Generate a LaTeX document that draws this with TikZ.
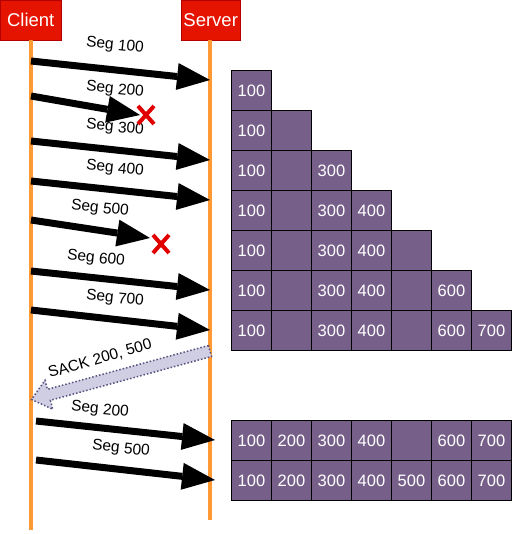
\documentclass[tikz,border=0pt]{standalone}
\usepackage{fontspec}
\setmainfont{Liberation Sans}
\usetikzlibrary{arrows.meta}
\definecolor{hdrred}{HTML}{E51400}
\definecolor{hdrborder}{HTML}{B20000}
\definecolor{lifeorange}{HTML}{FF9933}
\definecolor{cellpurple}{HTML}{76608A}
\definecolor{sackfill}{HTML}{D0CEE2}
\definecolor{sackline}{HTML}{56517E}
\definecolor{lossred}{HTML}{E00000}
\begin{document}
\begin{tikzpicture}[x=1pt,y=-1pt,
  header/.style={draw=hdrborder, fill=hdrred, text=white, font=\fontsize{18.5}{20}\selectfont, minimum height=40pt, inner sep=0pt, anchor=north west},
  lifeline/.style={draw=lifeorange, line width=3.5pt},
  seg/.style={line width=7pt, -{Triangle[length=33pt,width=27pt,line width=0pt]}},
  seglabel/.style={font=\fontsize{15.5}{17}\selectfont, rotate=-6, inner sep=0pt},
  cell/.style={draw=black, fill=cellpurple, text=white, minimum size=40pt, inner sep=0pt, anchor=north west, font=\fontsize{16.5}{18}\selectfont, line width=1pt},
  loss/.style={draw=lossred, line width=4pt},
  sack/.style={draw=sackline, fill=sackfill, dotted, line width=1.5pt}]
\useasboundingbox (0,0) rectangle (511,534);

% headers
\node[header, minimum width=61pt] (client) at (0,0) {Client};
\node[header, minimum width=59pt] (server) at (181,0) {Server};

% lifelines
\coordinate (clbot) at (31,530);
\coordinate (svbot) at (210,520);
\draw[lifeline] (client.south -| clbot) -- (clbot);
\draw[lifeline] (server.south -| svbot) -- (svbot);

% state cells
\foreach \t [count=\c from 0] in {100}
  \node[cell] (r1c\c) at (231+40*\c,70) {\t};
\foreach \t [count=\c from 0] in {100,{}}
  \node[cell] (r2c\c) at (231+40*\c,110) {\t};
\foreach \t [count=\c from 0] in {100,{},300}
  \node[cell] (r3c\c) at (231+40*\c,150) {\t};
\foreach \t [count=\c from 0] in {100,{},300,400}
  \node[cell] (r4c\c) at (231+40*\c,190) {\t};
\foreach \t [count=\c from 0] in {100,{},300,400,{}}
  \node[cell] (r5c\c) at (231+40*\c,230) {\t};
\foreach \t [count=\c from 0] in {100,{},300,400,{},600}
  \node[cell] (r6c\c) at (231+40*\c,270) {\t};
\foreach \t [count=\c from 0] in {100,{},300,400,{},600,700}
  \node[cell] (r7c\c) at (231+40*\c,310) {\t};
\foreach \t [count=\c from 0] in {100,200,300,400,{},600,700}
  \node[cell] (r8c\c) at (231+40*\c,420) {\t};
\foreach \t [count=\c from 0] in {100,200,300,400,500,600,700}
  \node[cell] (r9c\c) at (231+40*\c,460) {\t};

% segment endpoints
\coordinate (c1) at (31,61);  \coordinate (s1) at (210,80);
\coordinate (c2) at (31,96);  \coordinate (s2) at (140,115);
\coordinate (c3) at (31,141); \coordinate (s3) at (210,160);
\coordinate (c4) at (31,181); \coordinate (s4) at (210,200);
\coordinate (c5) at (31,220); \coordinate (s5) at (150,238);
\coordinate (c6) at (31,271); \coordinate (s6) at (210,290);
\coordinate (c7) at (31,310); \coordinate (s7) at (210,330);
\coordinate (c8) at (36,421); \coordinate (s8) at (215,440);
\coordinate (c9) at (36,460); \coordinate (s9) at (215,480);

\draw[seg] (c1) -- (s1);
\draw[seg] (c2) -- (s2);
\draw[seg] (c3) -- (s3);
\draw[seg] (c4) -- (s4);
\draw[seg] (c5) -- (s5);
\draw[seg] (c6) -- (s6);
\draw[seg] (c7) -- (s7);
\draw[seg] (c8) -- (s8);
\draw[seg] (c9) -- (s9);

% labels
\node[seglabel] (l1) at (115,46) {Seg 100};
\node[seglabel] (l2) at (115,90) {Seg 200};
\node[seglabel] (l3) at (115,128) {Seg 300};
\node[seglabel] (l4) at (115,169) {Seg 400};
\node[seglabel] (l5) at (100,209) {Seg 500};
\node[seglabel] (l6) at (96,259) {Seg 600};
\node[seglabel] (l7) at (115,299) {Seg 700};
\node[seglabel] (l8) at (100,410) {Seg 200};
\node[seglabel] (l9) at (121,449) {Seg 500};

% losses
\coordinate (x1) at (146,115);
\coordinate (x2) at (161,244);
\draw[loss] (x1) +(-8,-9) -- +(8,9) +(-8,9) -- +(8,-9);
\draw[loss] (x2) +(-8,-9) -- +(8,9) +(-8,9) -- +(8,-9);

% SACK
\draw[sack] (208.5,345.5) -- (47.4,389.3) -- (45.0,380.3) -- (31.5,399.5)
  -- (52.8,409.3) -- (50.4,400.3) -- (211.5,356.5) -- cycle;
\node[font=\fontsize{15.5}{17}\selectfont, rotate=16, inner sep=0pt] (sacklbl) at (100,359) {SACK 200,~500};
\end{tikzpicture}
\end{document}
